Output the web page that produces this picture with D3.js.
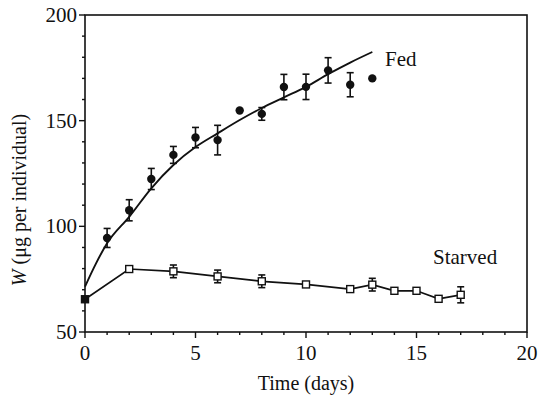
<!DOCTYPE html>
<html lang="en">
<head>
<meta charset="UTF-8">
<title>W fed vs starved</title>
<script src="https://d3js.org/d3.v7.min.js"></script>
<style>
    body { margin: 0; background: #fff; }
    text { font-family: "Liberation Serif", "DejaVu Serif", serif; fill: #111; }
</style>
</head>
<body>
<svg id="chart" width="540" height="398"></svg>
<script>
    // Fed: measured means (filled circles) and error half-widths (0 = none)
    const fedDays = [1, 2, 3, 4, 5, 6, 7, 8, 9, 10, 11, 12, 13];
    const fedW = [94.5, 107.6, 122.4, 133.8, 142, 140.8, 154.8, 153.2, 165.9, 166, 173.8, 167, 170];
    const fedErr = [4.5, 5, 5, 4, 4.8, 7, 0, 3, 6, 6, 6, 5.7, 0];

    // Fed: fitted curve
    const fitDays = [0, 0.5, 1, 2, 3, 4, 5, 6, 7, 8, 9, 10, 11, 12, 13];
    const fitW = [71.5, 82.5, 92, 104.5, 118, 129, 137.5, 144, 150.3, 156, 161, 166, 172, 177.5, 182.5];

    // Starved: means (open squares), joined by straight lines
    const starvedDays = [0, 2, 4, 6, 8, 10, 12, 13, 14, 15, 16, 17];
    const starvedW = [65.5, 79.8, 78.7, 76.3, 74, 72.5, 70.3, 72.4, 69.5, 69.5, 65.7, 67.6];
    const starvedErr = [0, 0, 3, 3, 3, 0, 0, 3, 0, 0, 0, 3.8];

    const xTicks = [0, 5, 10, 15, 20];
    const yTicks = [50, 100, 150, 200];

    const svg = d3.select("#chart");
    const x = d3.scaleLinear().domain([0, 20]).range([85, 527]);
    const y = d3.scaleLinear().domain([50, 200]).range([332, 15]);

    // frame
    svg.append("rect")
        .attr("x", x(0)).attr("y", y(200))
        .attr("width", x(20) - x(0)).attr("height", y(50) - y(200))
        .attr("fill", "none").attr("stroke", "#111").attr("stroke-width", 1.6);

    // x axis: minor ticks each day, labelled majors
    const gx = svg.append("g");
    gx.selectAll("line").data(d3.range(0, 21)).enter().append("line")
        .attr("x1", d => x(d)).attr("x2", d => x(d))
        .attr("y1", y(50)).attr("y2", d => y(50) + (d % 5 === 0 ? 6 : 3))
        .attr("stroke", "#111").attr("stroke-width", 1.4);
    gx.selectAll("text").data(xTicks).enter().append("text")
        .attr("x", d => x(d)).attr("y", 360)
        .attr("text-anchor", "middle").attr("font-size", 21)
        .text(d => d);

    // y axis: minor ticks every 10
    const gy = svg.append("g");
    gy.selectAll("line").data(d3.range(50, 201, 10)).enter().append("line")
        .attr("y1", d => y(d)).attr("y2", d => y(d))
        .attr("x1", x(0)).attr("x2", d => x(0) - (d % 50 === 0 ? 6 : 3))
        .attr("stroke", "#111").attr("stroke-width", 1.4);
    gy.selectAll("text").data(yTicks).enter().append("text")
        .attr("x", 77).attr("y", d => y(d) + 7)
        .attr("text-anchor", "end").attr("font-size", 21)
        .text(d => d);

    // axis titles
    svg.append("text")
        .attr("x", x(10)).attr("y", 390)
        .attr("text-anchor", "middle").attr("font-size", 20)
        .text("Time (days)");
    const yl = svg.append("text")
        .attr("transform", "translate(26,200) rotate(-90)")
        .attr("text-anchor", "middle").attr("font-size", 20);
    yl.append("tspan").attr("font-style", "italic").text("W");
    yl.append("tspan").text(" (\u03bcg per individual)");

    // fitted curve for fed
    const fit = fitDays.map((d, i) => [d, fitW[i]]);
    svg.append("path")
        .datum(fit)
        .attr("fill", "none").attr("stroke", "#111").attr("stroke-width", 1.9)
        .attr("d", d3.line().x(d => x(d[0])).y(d => y(d[1])).curve(d3.curveMonotoneX));

    // starved line
    const starved = starvedDays.map((d, i) => ({day: d, w: starvedW[i], err: starvedErr[i]}));
    svg.append("path")
        .datum(starved)
        .attr("fill", "none").attr("stroke", "#111").attr("stroke-width", 1.7)
        .attr("d", d3.line().x(d => x(d.day)).y(d => y(d.w)));

    // error bars
    function errorBars(data) {
        const g = svg.append("g").attr("stroke", "#111").attr("stroke-width", 1.6);
        const withErr = data.filter(d => d.err > 0);
        g.selectAll(".v").data(withErr).enter().append("line")
            .attr("x1", d => x(d.day)).attr("x2", d => x(d.day))
            .attr("y1", d => y(d.w - d.err)).attr("y2", d => y(d.w + d.err));
        g.selectAll(".t").data(withErr).enter().append("line")
            .attr("x1", d => x(d.day) - 3.5).attr("x2", d => x(d.day) + 3.5)
            .attr("y1", d => y(d.w + d.err)).attr("y2", d => y(d.w + d.err));
        g.selectAll(".b").data(withErr).enter().append("line")
            .attr("x1", d => x(d.day) - 3.5).attr("x2", d => x(d.day) + 3.5)
            .attr("y1", d => y(d.w - d.err)).attr("y2", d => y(d.w - d.err));
    }

    const fed = fedDays.map((d, i) => ({day: d, w: fedW[i], err: fedErr[i]}));
    errorBars(fed);
    errorBars(starved);

    // fed markers
    svg.append("g").selectAll("circle").data(fed).enter().append("circle")
        .attr("cx", d => x(d.day)).attr("cy", d => y(d.w)).attr("r", 4.2)
        .attr("fill", "#111");

    // starved markers (day 0 is shared start, drawn filled)
    svg.append("g").selectAll("rect").data(starved).enter().append("rect")
        .attr("x", d => x(d.day) - 3.5).attr("y", d => y(d.w) - 3.5)
        .attr("width", 7).attr("height", 7)
        .attr("fill", d => d.day === 0 ? "#111" : "#fff")
        .attr("stroke", "#111").attr("stroke-width", 1.4);

    // series labels
    svg.append("text").attr("x", 385).attr("y", 66).attr("font-size", 21).text("Fed");
    svg.append("text").attr("x", 433).attr("y", 264).attr("font-size", 21).text("Starved");
</script>
</body>
</html>
